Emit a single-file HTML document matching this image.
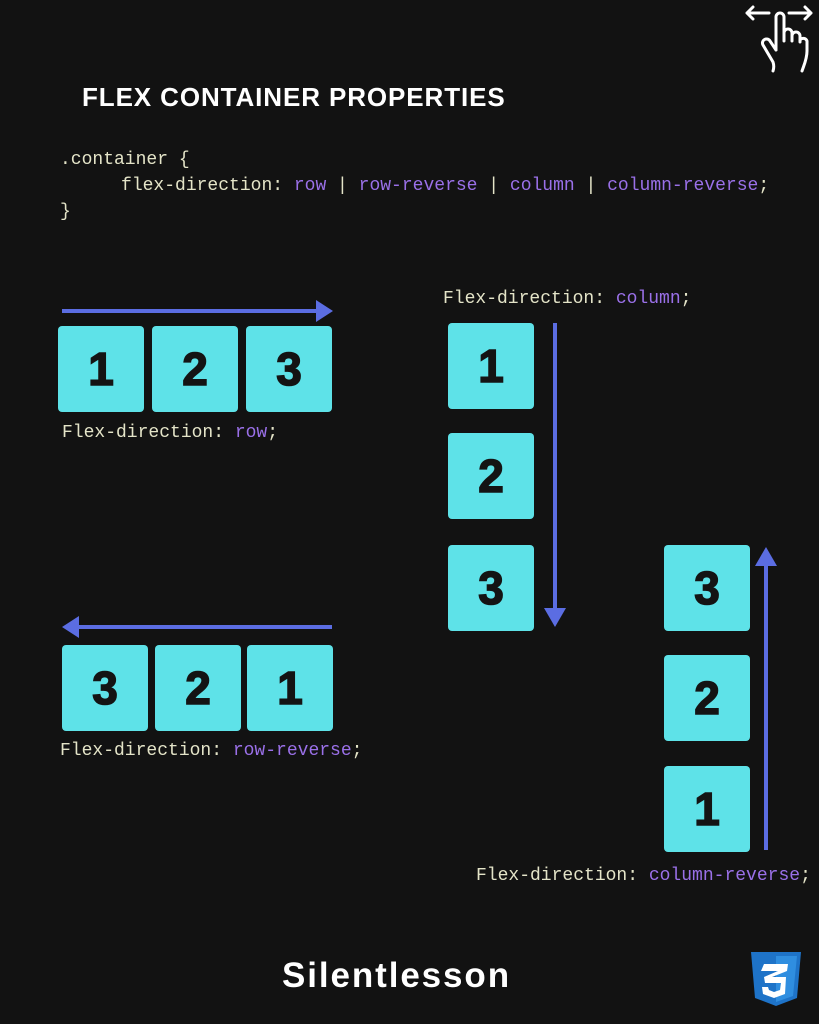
<!DOCTYPE html>
<html><head><meta charset="utf-8"><style>
body{margin:0;width:819px;height:1024px;background:#121212;position:relative;overflow:hidden;font-family:"Liberation Sans",sans-serif}
.a{position:absolute}
.box{position:absolute;width:86px;height:86px;background:#5ee2e8;border-radius:4px;color:#141414;font:bold 46px "Liberation Sans",sans-serif;-webkit-text-stroke:1.5px #141414;display:flex;align-items:center;justify-content:center}
.code{position:absolute;font:18px "Liberation Mono","DejaVu Sans Mono",monospace;color:#e4e4c8;white-space:pre}
.p{color:#9a70e8}
</style></head><body>
<div class="a" style="left:82px;top:82px;font-size:26px;font-weight:bold;color:#fff;letter-spacing:0.9px">FLEX CONTAINER PROPERTIES</div>
<div class="code" style="left:60px;top:147px;line-height:26px">.container {
     <span style="display:inline-block;width:7px"></span>flex-direction: <span class="p">row</span> | <span class="p">row-reverse</span> | <span class="p">column</span> | <span class="p">column-reverse</span>;
}</div>

<svg class="a" style="left:0;top:0" width="819" height="1024">
<g fill="#5b6de2" stroke="#5b6de2">
<line x1="62" y1="311" x2="318" y2="311" stroke-width="4"/><polygon points="316,300 333,311 316,322" stroke="none"/>
<line x1="78" y1="627" x2="332" y2="627" stroke-width="4"/><polygon points="79,616 62,627 79,638" stroke="none"/>
<line x1="555" y1="323" x2="555" y2="610" stroke-width="4"/><polygon points="544,608 555,627 566,608" stroke="none"/>
<line x1="766" y1="565" x2="766" y2="850" stroke-width="4"/><polygon points="755,566 766,547 777,566" stroke="none"/>
</g>
<g fill="none" stroke="#fff" stroke-width="3" stroke-linecap="round" stroke-linejoin="round">
<path d="M747 13h22M753 7l-6 6 6 6M789 13h22M805 7l6 6-6 6"/>
<path d="M776 50V17a4 4 0 0 1 8 0v24M784 33a4 4 0 0 1 8 0v8M792 36a4 4 0 0 1 8 0v6M800 40a4 4 0 0 1 7 1v10c0 8-3 14-5 20M776 50l-6-9a4 4 0 0 0-7 4l10 17c1 3 1 6 0 9"/>
</g>
<g>
<path d="M751 952h50l-4 46-21 8-21-8z" fill="#1e73c8"/>
<path d="M776 956h21l-4 40-17 6z" fill="#2f8ee0"/>
<path d="M764 964h24l-1 7-15 6h14l-1 17-11 4-11-4-1-7h6l1 3 5 2 6-2 1-7h-16l-1-6 14-6h-17z" fill="#fff"/>
</g>
</svg>

<div class="box" style="left:58px;top:326px">1</div>
<div class="box" style="left:152px;top:326px">2</div>
<div class="box" style="left:246px;top:326px">3</div>
<div class="code" style="left:62px;top:423px">Flex-direction: <span class="p">row</span>;</div>

<div class="code" style="left:443px;top:289px">Flex-direction: <span class="p">column</span>;</div>
<div class="box" style="left:448px;top:323px">1</div>
<div class="box" style="left:448px;top:433px">2</div>
<div class="box" style="left:448px;top:545px">3</div>

<div class="box" style="left:62px;top:645px">3</div>
<div class="box" style="left:155px;top:645px">2</div>
<div class="box" style="left:247px;top:645px">1</div>
<div class="code" style="left:60px;top:741px">Flex-direction: <span class="p">row-reverse</span>;</div>

<div class="box" style="left:664px;top:545px">3</div>
<div class="box" style="left:664px;top:655px">2</div>
<div class="box" style="left:664px;top:766px">1</div>
<div class="code" style="left:476px;top:866px">Flex-direction: <span class="p">column-reverse</span>;</div>

<div class="a" style="left:282px;top:956px;font-size:35px;font-weight:bold;color:#fff;letter-spacing:1.9px">Silentlesson</div>
</body></html>
